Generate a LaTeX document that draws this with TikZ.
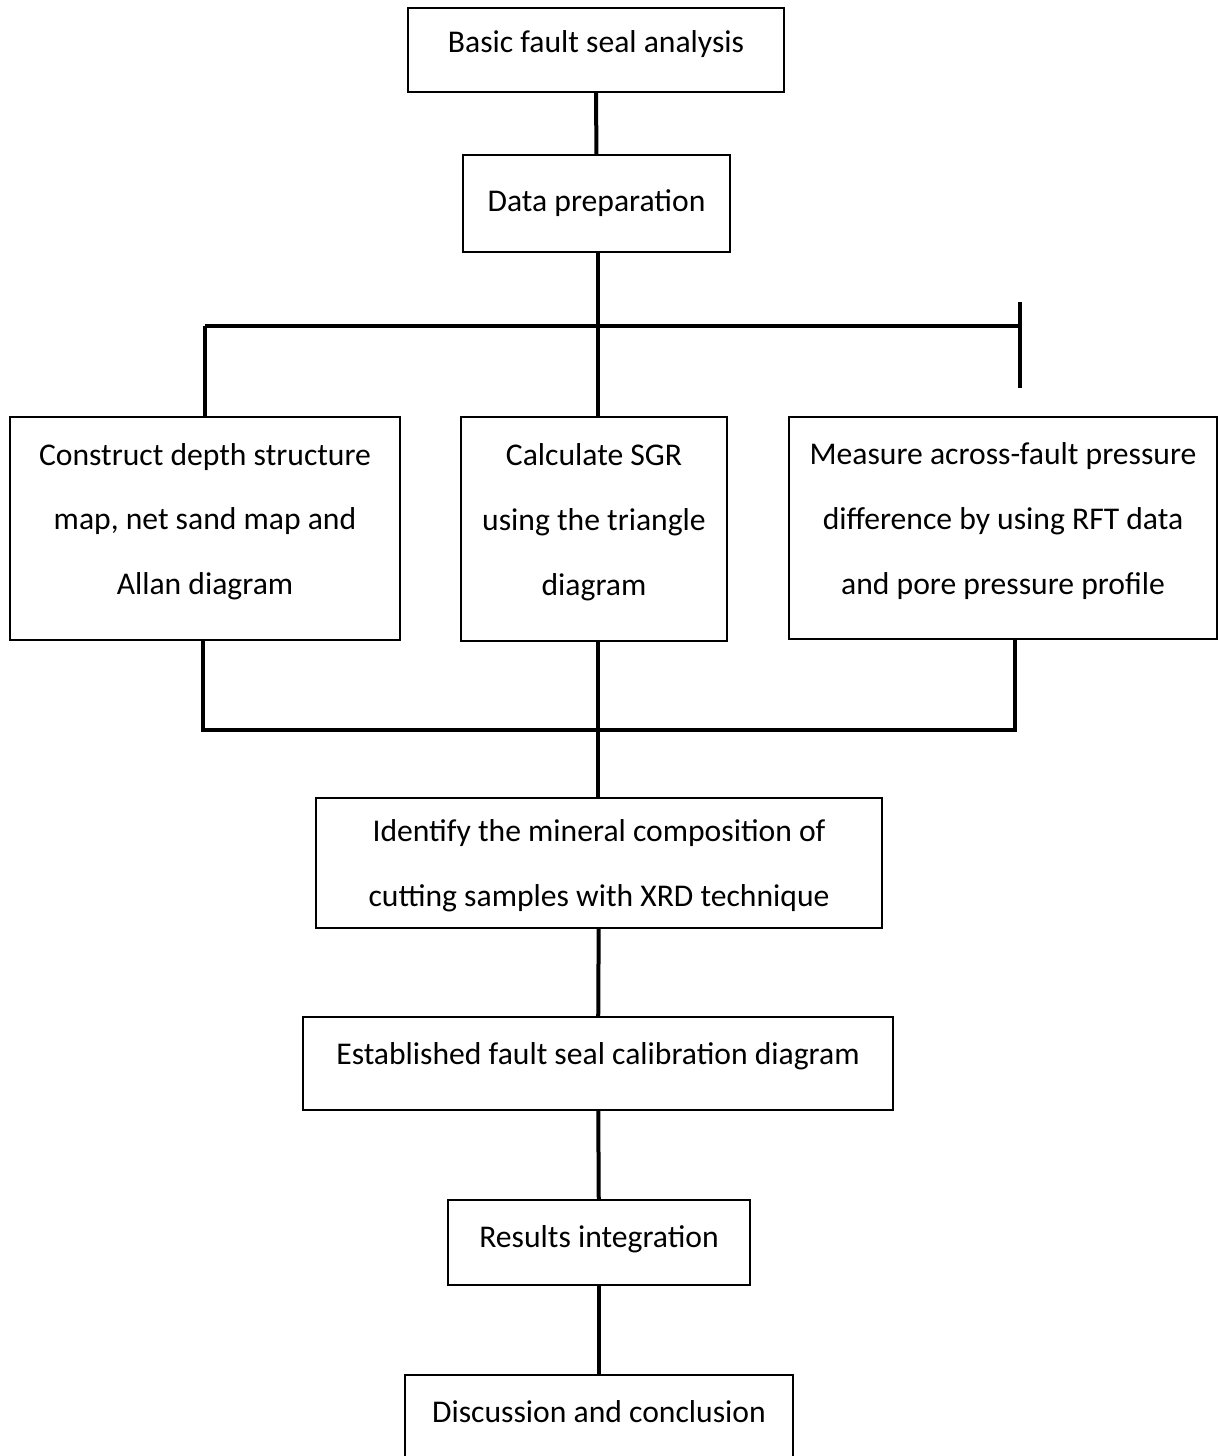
\documentclass[tikz,border=0pt]{standalone}
\usepackage{fontspec}
\setmainfont{Carlito}
\usetikzlibrary{positioning}

\begin{document}
\begin{tikzpicture}[
  x=0.2mm, y=-0.2mm,
  box/.style={draw, line width=0.35mm, inner sep=0pt, align=center,
              text depth=3.8mm, font=\fontsize{18}{36.9}\selectfont},
  link/.style={line width=0.8mm}
]
  \clip (0,0) rectangle (1219,1456);
  \fill[white] (0,0) rectangle (1219,1456);

  \node[box, minimum width=75.2mm, minimum height=16.8mm,
        text depth=3.2mm]                                  (basic)  at (596,50)    {Basic fault seal analysis};
  \node[box, minimum width=53.4mm, minimum height=19.4mm,
        text depth=]                                       (prep)   at (596.5,203.5) {Data preparation};
  \node[box, minimum width=78mm, minimum height=44.6mm]    (depth)  at (205,528.5)  {Construct depth structure\\
                                                                                     map, net sand map and\\
                                                                                     Allan diagram};
  \node[box, minimum width=53.2mm, minimum height=44.8mm]  (sgr)    at (594,529)    {Calculate SGR\\
                                                                                     using the triangle\\
                                                                                     diagram};
  \node[box, minimum width=85.6mm, minimum height=44.4mm]  (press)  at (1003,528)   {Measure across-fault pressure\\
                                                                                     difference by using RFT data\\
                                                                                     and pore pressure profile};
  \node[box, minimum width=113.2mm, minimum height=26mm,
        text depth=0pt]                                    (xrd)    at (599,863)    {Identify the mineral composition of\\
                                                                                     cutting samples with XRD technique};
  \node[box, minimum width=118mm, minimum height=18.6mm]   (calib)  at (598,1063.5) {Established fault seal calibration diagram};
  \node[box, minimum width=60.4mm, minimum height=17mm,
        text depth=2.2mm]                                  (integ)  at (599,1242.5) {Results integration};
  \node[box, minimum width=77.6mm, minimum height=20mm,
        text depth=5.4mm]                                  (disc)   at (599,1425)   {Discussion and conclusion};

  % split and merge bars
  \coordinate (splitL) at (205,326);
  \coordinate (splitR) at (1020,326);
  \coordinate (tickT)  at (1020,302);
  \coordinate (tickB)  at (1020,388);
  \coordinate (mergeL) at (203,730);
  \coordinate (mergeR) at (1015,730);

  \draw[link] (basic) -- (prep);
  \draw[link] (prep.south -| 598,0) -- (sgr.north -| 598,0);
  \draw[link] (splitL) -- (splitR);
  \draw[link] (splitL) -- (depth);
  \draw[link] (tickT) -- (tickB);
  \draw[link] (depth.south -| mergeL) -- (mergeL) -- (mergeR) -- (press.south -| mergeR);
  \draw[link] (sgr.south -| 598,0) -- (xrd.north -| 598,0);
  \draw[link] (xrd) -- (calib);
  \draw[link] (calib) -- (integ);
  \draw[link] (integ) -- (disc);
\end{tikzpicture}
\end{document}
